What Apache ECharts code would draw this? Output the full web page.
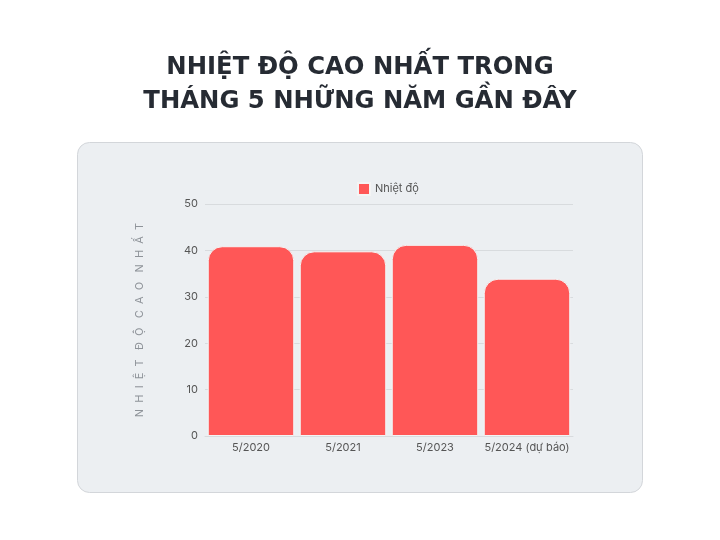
<!DOCTYPE html>
<html><head><meta charset="utf-8">
<script src="https://cdn.jsdelivr.net/npm/echarts@6/dist/echarts.min.js"></script>
<style>html,body{margin:0;padding:0;background:#fff}#c{width:720px;height:540px}</style>
</head><body><div id="c"></div>
<script>
const categories = ['5/2020', '5/2021', '5/2023', '5/2024 (dự báo)'];
const temperatures = [40.9, 39.8, 41.2, 33.9];
const yTicks = [0, 10, 20, 30, 40, 50];
const seriesName = 'Nhiệt độ';
const titleText = 'NHIỆT ĐỘ CAO NHẤT TRONG\nTHÁNG 5 NHỮNG NĂM GẦN ĐÂY';
const yAxisName = 'N  H  I  Ệ  T   Đ  Ộ   C  A  O   N  H  Ấ  T';

const chart = echarts.init(document.getElementById('c'));
chart.setOption({
  animation: false,
  backgroundColor: '#ffffff',
  graphic: [{
    type: 'rect', left: 77, top: 142, z: -10,
    shape: { width: 565, height: 350, r: 12 },
    style: { fill: '#eceff2', stroke: '#d3d6da', lineWidth: 1 }
  }],
  title: {
    text: titleText, left: 'center', top: 46,
    textStyle: { fontFamily: 'DejaVu Sans', fontWeight: 'bold', fontSize: 24.3, color: '#262b33', lineHeight: 34 }
  },
  legend: {
    data: [seriesName], top: 177, left: 352, itemWidth: 12, itemHeight: 12, icon: 'rect',
    textStyle: { fontFamily: 'Inter', fontSize: 11, color: '#555' }
  },
  grid: { left: 205, right: 147, top: 204, bottom: 104, containLabel: false },
  xAxis: {
    type: 'category', data: categories,
    axisLine: { show: true, lineStyle: { color: '#d8dbde' } },
    axisTick: { show: false },
    axisLabel: { interval: 0, fontFamily: 'Inter', fontSize: 11, color: '#555', margin: 6 }
  },
  yAxis: {
    type: 'value', min: yTicks[0], max: yTicks[yTicks.length - 1], interval: 10,
    name: yAxisName, nameLocation: 'middle', nameGap: 60, nameRotate: 90,
    nameTextStyle: { fontFamily: 'Inter', fontSize: 11, color: '#8e9399' },
    axisLabel: { fontFamily: 'Inter', fontSize: 11, color: '#555', margin: 7 },
    splitLine: { lineStyle: { color: '#d8dbde' } },
    axisLine: { show: false }, axisTick: { show: false }
  },
  series: [{
    name: seriesName, type: 'bar', data: temperatures, barCategoryGap: '6%',
    itemStyle: { color: '#ff5757', borderRadius: [14, 14, 0, 0], borderColor: '#f4f4f4', borderWidth: 1 }
  }]
});
</script></body></html>
